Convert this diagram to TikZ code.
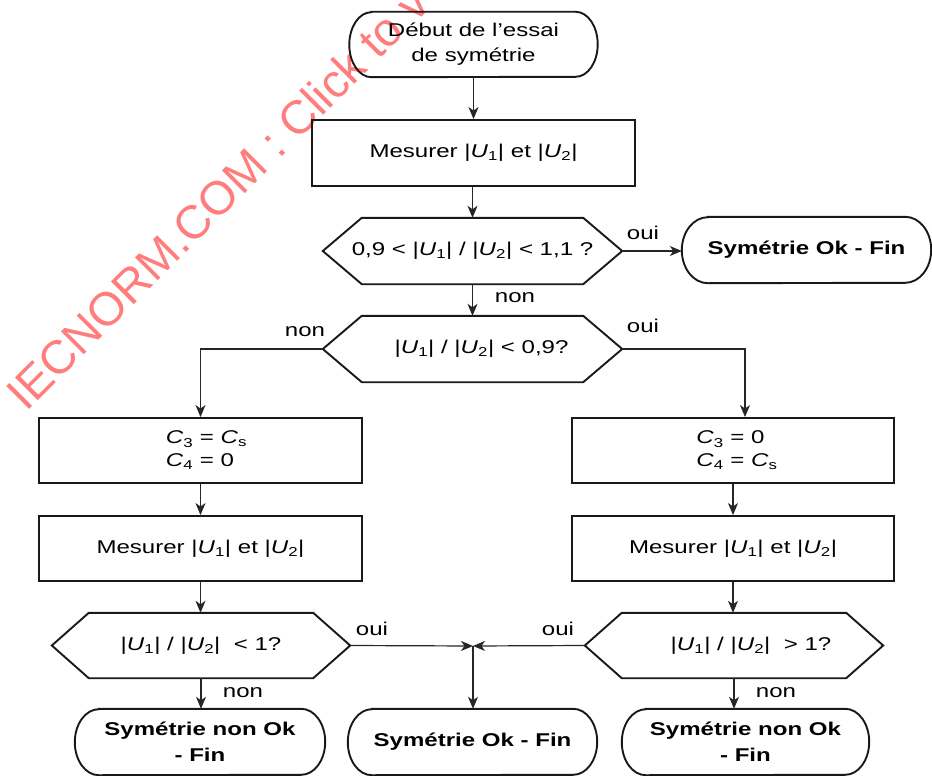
\documentclass[tikz,border=0pt]{standalone}
\usepackage{fontspec}
\setmainfont{Liberation Sans}[FakeStretch=1.3]
\newfontfamily\wmfont{Liberation Sans}
\usetikzlibrary{arrows.meta,calc}
\newcommand\Uv[1]{\textit{U}\textsubscript{#1}}
\newcommand\Cv[1]{\textit{C}\textsubscript{#1}}
\definecolor{wmred}{RGB}{255,125,125}
\newcommand\termpath[3]{\draw[shapeline] ([xshift=#2pt]#1.north west) -- ([xshift=-#2pt]#1.north east) arc[start angle=90,end angle=-90,x radius=#2pt,y radius=#3pt] -- ([xshift=#2pt]#1.south west) arc[start angle=270,end angle=90,x radius=#2pt,y radius=#3pt] -- cycle;}
\newcommand\hexpath[2]{\draw[shapeline] (#1.west) -- ([xshift=#2pt]#1.north west) -- ([xshift=-#2pt]#1.north east) -- (#1.east) -- ([xshift=-#2pt]#1.south east) -- ([xshift=#2pt]#1.south west) -- cycle;}
\tikzset{
  shapeline/.style={draw=black!90,line width=1.9pt,line join=miter},
  conn/.style={draw=black!85,line width=1.2pt},
  arr/.style={conn,-{Stealth[length=12pt,width=10pt,inset=3.5pt]}},
  procbox/.style={shapeline,inner sep=0pt,align=center},
  ghost/.style={inner sep=0pt,align=center},
  lbl/.style={inner sep=0pt},
  wm/.style={inner sep=0pt,text=wmred,font=\wmfont\fontsize{47}{47}\selectfont}
}
\begin{document}
\begin{tikzpicture}[x=1pt,y=-1pt,font=\fontsize{18.5}{25}\selectfont]
\useasboundingbox (0,0) rectangle (932,776);
\begin{scope}
\clip (0,0) rectangle (932,776);
\node[wm,rotate=45,anchor=base west] (wmk) at (26,413) {IECNORM.COM : Click to v};
\end{scope}
% top
\node[ghost,minimum width=248pt,minimum height=65pt] (start) at (473.5,44.5) {Début de l’essai\\de symétrie};
\termpath{start}{22}{32.5}
\node[procbox,minimum width=323pt,minimum height=66pt] (box1) at (473.5,153) {Mesurer |\Uv{1}| et |\Uv{2}|};
\node[ghost,minimum width=299pt,minimum height=66pt] (h1) at (472.5,251) {0,9 < |\Uv{1}| / |\Uv{2}| < 1,1 ?};
\hexpath{h1}{39}
\node[ghost,minimum width=249pt,minimum height=66pt,font=\fontsize{18.5}{25}\selectfont\bfseries] (ok1) at (806.5,250) {Symétrie Ok - Fin};
\termpath{ok1}{26}{33}
\node[ghost,minimum width=299pt,minimum height=66pt] (h2) at (472.5,349) {\hspace*{18pt}|\Uv{1}| / |\Uv{2}| < 0,9?};
\hexpath{h2}{39}
% left column
\node[procbox,align=left,minimum width=323pt,minimum height=65pt,font=\fontsize{18.5}{23}\selectfont] (cL) at (200.5,450.5) {\hspace*{12pt}\Cv{3} = \Cv{s}\\\hspace*{12pt}\Cv{4} = 0};
\node[procbox,minimum width=323pt,minimum height=65pt] (mL) at (200.5,548.5) {Mesurer |\Uv{1}| et |\Uv{2}|};
\node[ghost,minimum width=298pt,minimum height=65pt] (h3) at (201,645.5) {|\Uv{1}| / |\Uv{2}|~ < 1?};
\hexpath{h3}{37}
% right column
\node[procbox,align=left,minimum width=322pt,minimum height=65pt,font=\fontsize{18.5}{23}\selectfont] (cR) at (733,450.5) {\hspace*{8pt}\Cv{3} = 0\\\hspace*{8pt}\Cv{4} = \Cv{s}};
\node[procbox,minimum width=322pt,minimum height=65pt] (mR) at (733,548.5) {Mesurer |\Uv{1}| et |\Uv{2}|};
\node[ghost,minimum width=298pt,minimum height=65pt] (h4) at (734,645.5) {\hspace*{34pt}|\Uv{1}| / |\Uv{2}|~ > 1?};
\hexpath{h4}{37}
% bottom terminals
\node[ghost,minimum width=250pt,minimum height=66pt,font=\fontsize{18.5}{26}\selectfont\bfseries] (eL) at (200,742) {Symétrie non Ok\\- Fin};
\termpath{eL}{24}{33}
\node[ghost,minimum width=249pt,minimum height=66pt,font=\fontsize{18.5}{26}\selectfont\bfseries] (eM) at (472.5,742) {Symétrie Ok - Fin};
\termpath{eM}{24}{33}
\node[ghost,minimum width=247pt,minimum height=66pt,font=\fontsize{18.5}{26}\selectfont\bfseries] (eR) at (745.5,742) {Symétrie non Ok\\- Fin};
\termpath{eR}{24}{33}
\coordinate (J) at (473,646);
% connectors
\draw[arr] (start.south) -- (box1.north);
\draw[arr] (box1.south -| h1.north) -- (h1.north);
\draw[arr] (h1.east) -- (h1.east -| ok1.west);
\draw[arr] (h1.south) -- (h2.north);
\draw[arr] (h2.west) -| (cL.north);
\draw[arr] (h2.east) -| ([xshift=12pt]cR.north);
\draw[arr] (cL.south) -- (mL.north);
\draw[arr] (mL.south) -- (mL.south |- h3.north);
\draw[arr] (cR.south) -- (mR.north);
\draw[arr] (mR.south) -- (mR.south |- h4.north);
\draw[arr] (h3.south) -- (h3.south |- eL.north);
\draw[arr] (h4.south) -- (h4.south |- eR.north);
\draw[arr] (h3.east) -- (J);
\draw[arr] (h4.west) -- (J);
\draw[arr] (J) -- (J |- eM.north);
% labels
\node[lbl] (l1) at (643,233) {oui};
\node[lbl] (l2) at (515,298) {non};
\node[lbl] (l3) at (305,332) {non};
\node[lbl] (l4) at (643,326) {oui};
\node[lbl] (l5) at (372,629) {oui};
\node[lbl] (l6) at (558,629) {oui};
\node[lbl] (l7) at (243,693) {non};
\node[lbl] (l8) at (776,693) {non};
\end{tikzpicture}
\end{document}
